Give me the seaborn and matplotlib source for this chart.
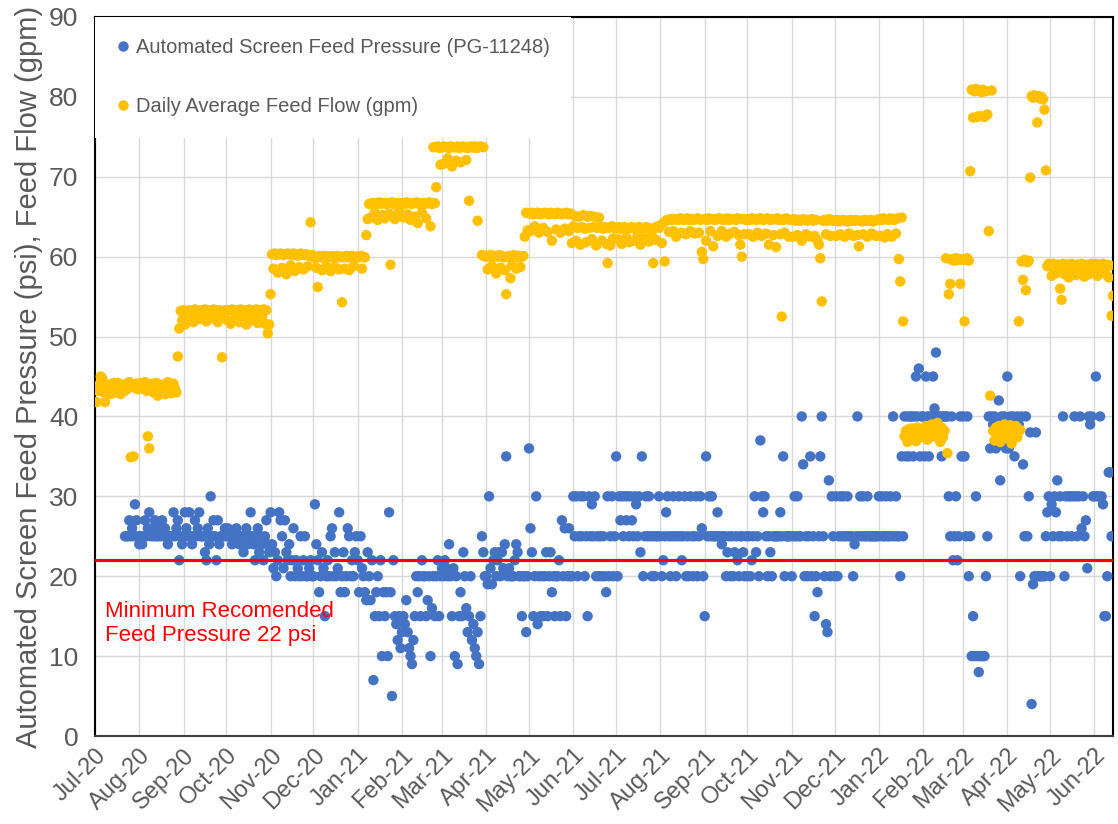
import pandas as pd
import matplotlib
matplotlib.use("Agg")
import matplotlib.pyplot as plt
import matplotlib.dates as mdates
import seaborn as sns

# colours
BLUE = "#4472C4"
GOLD = "#FFC000"
GREY = "#595959"

month_starts = pd.date_range("2020-07-01", "2022-06-01", freq="MS")

# Daily Average Feed Flow (gpm), one list per month
flow_2020_07 = [43.5, 41.8, 43.2, 44.0, 45.0, 44.8, 43.0, 41.8, 43.5, 44.0, 43.2, 42.8, 43.6, 44.2, 43.0, 43.8,
                44.2, 43.5, 42.8, 43.6, 44.0, 43.2, 43.8, 43.5, 44.3, 34.9, 43.8, 35.0, 43.6, 44.1, 43.4]
flow_2020_08 = [43.8, 44.2, 43.5, 43.9, 44.3, 43.2, 37.5, 36.0, 43.6, 44.1, 43.0, 43.8, 44.2, 42.6, 43.5, 43.9,
                43.1, 44.0, 42.8, 43.6, 44.3, 43.4, 42.9, 43.8, 44.1, 43.5, 43.0, 47.5, 51.0, 53.2, 52.0]
flow_2020_09 = [53.3, 51.5, 53.2, 52.0, 53.3, 52.4, 53.1, 51.8, 53.4, 52.5, 53.2, 52.2, 53.3, 53.0, 52.6, 53.4,
                51.9, 53.2, 53.3, 52.3, 53.1, 53.4, 52.5, 53.2, 51.8, 53.3, 53.2, 47.4, 52.6, 53.3]
flow_2020_10 = [53.2, 52.0, 53.3, 51.6, 53.4, 53.2, 52.2, 53.3, 53.1, 51.8, 53.4, 53.2, 52.4, 53.3, 51.5, 53.2,
                53.4, 52.0, 53.3, 53.2, 52.3, 53.4, 51.7, 53.3, 53.2, 52.5, 53.4, 51.6, 53.3, 50.4, 51.5]
flow_2020_11 = [55.3, 60.3, 58.5, 60.4, 60.2, 58.0, 60.3, 60.4, 58.6, 60.2, 60.3, 57.8, 60.4, 60.3, 58.9, 60.2,
                60.4, 58.2, 60.3, 60.1, 58.7, 60.4, 60.3, 58.4, 60.2, 60.3, 58.8, 60.1, 64.3, 60.2]
flow_2020_12 = [60.0, 59.8, 58.6, 56.2, 60.1, 59.9, 58.3, 60.0, 60.1, 58.8, 59.9, 60.0, 58.2, 60.1, 59.9, 58.7,
                60.0, 60.1, 58.4, 59.9, 54.3, 60.0, 58.5, 60.1, 59.9, 58.3, 60.0, 60.1, 58.8, 59.9, 60.0]
flow_2021_01 = [59.9, 60.0, 60.1, 58.5, 60.0, 59.9, 62.7, 64.7, 66.6, 64.9, 66.7, 66.5, 65.5, 66.7, 64.6, 66.8,
                66.6, 65.2, 66.7, 64.8, 66.6, 66.7, 65.4, 59.0, 66.8, 66.6, 64.7, 66.7, 66.5, 65.6, 66.7]
flow_2021_02 = [66.7, 64.9, 66.6, 66.8, 65.3, 66.7, 64.6, 66.6, 66.7, 65.0, 66.8, 64.2, 66.6, 66.7, 65.5, 66.7,
                66.6, 64.8, 66.7, 66.8, 63.8, 66.6, 73.7, 66.7, 68.7, 73.8, 73.6, 71.5]
flow_2021_03 = [73.7, 71.6, 73.8, 73.7, 72.3, 73.6, 73.8, 71.3, 73.7, 73.7, 72.0, 73.8, 73.6, 71.8, 73.7, 73.8,
                73.7, 72.1, 73.6, 67.0, 73.8, 73.7, 73.7, 73.8, 73.6, 64.5, 73.7, 73.8, 60.2, 73.7, 60.0]
flow_2021_04 = [60.1, 58.4, 60.0, 60.2, 58.8, 59.9, 60.1, 57.9, 60.0, 60.2, 58.6, 60.1, 59.9, 58.3, 55.3, 60.0,
                60.1, 57.3, 58.9, 60.2, 60.0, 58.5, 60.1, 59.9, 58.7, 60.0, 60.1, 62.5, 65.5, 63.3]
flow_2021_05 = [65.4, 63.2, 65.5, 65.3, 63.8, 65.4, 65.5, 63.0, 65.3, 65.4, 63.6, 65.5, 65.4, 63.1, 65.3, 65.5,
                62.0, 65.4, 65.3, 63.4, 65.5, 65.4, 63.0, 65.3, 65.4, 63.5, 65.5, 65.3, 63.2, 65.4, 61.7]
flow_2021_06 = [63.8, 65.1, 62.0, 63.6, 65.0, 61.5, 63.7, 65.2, 63.5, 61.8, 65.0, 63.6, 65.1, 62.2, 63.7, 65.0,
                61.4, 63.6, 64.9, 63.8, 62.0, 63.5, 63.7, 61.6, 59.2, 63.6, 61.4, 63.8, 62.3, 63.6]
flow_2021_07 = [63.6, 62.2, 63.7, 63.5, 61.6, 63.6, 63.7, 62.4, 63.5, 61.8, 63.6, 63.7, 62.0, 63.5, 63.6, 62.5,
                63.7, 61.5, 63.6, 63.5, 62.3, 63.7, 63.6, 61.9, 63.5, 62.6, 59.2, 63.6, 62.1, 63.8, 63.6]
flow_2021_08 = [63.9, 61.7, 64.2, 59.4, 64.5, 64.6, 63.1, 64.7, 64.6, 63.2, 64.7, 62.5, 64.6, 64.7, 64.8, 63.0,
                64.6, 64.7, 62.8, 64.8, 64.6, 63.2, 64.7, 64.6, 62.9, 64.7, 64.8, 63.0, 64.6, 60.6, 59.7]
flow_2021_09 = [64.7, 62.0, 64.6, 64.8, 63.2, 64.7, 61.3, 64.6, 64.7, 62.6, 64.8, 64.7, 63.2, 64.6, 64.7, 62.5,
                64.8, 64.6, 62.9, 64.7, 64.7, 63.1, 64.6, 64.8, 62.7, 61.5, 60.0, 64.7, 62.8, 64.6]
flow_2021_10 = [64.7, 62.8, 64.6, 64.8, 62.5, 64.7, 64.6, 63.0, 64.7, 64.8, 62.6, 64.6, 64.7, 62.9, 64.8, 61.5,
                64.6, 64.7, 62.7, 64.7, 61.2, 64.8, 64.6, 62.8, 52.5, 64.6, 63.0, 64.8, 64.7, 62.5, 64.6]
flow_2021_11 = [64.6, 62.5, 64.7, 64.5, 62.7, 64.6, 64.5, 62.0, 64.7, 64.6, 62.8, 64.5, 64.6, 62.5, 64.7, 64.5,
                62.6, 64.6, 62.0, 61.5, 59.8, 54.4, 64.5, 64.6, 62.8, 64.5, 64.7, 62.6, 64.6, 64.5]
flow_2021_12 = [64.5, 62.6, 64.6, 64.4, 62.8, 64.5, 64.6, 62.5, 64.5, 64.4, 62.9, 64.6, 64.5, 62.6, 64.5, 64.6,
                62.7, 61.3, 64.5, 64.4, 62.8, 64.6, 64.5, 62.5, 64.5, 64.6, 62.9, 64.4, 64.5, 62.6, 64.6]
flow_2022_01 = [64.7, 62.6, 64.6, 64.8, 62.4, 64.7, 62.8, 64.6, 64.8, 62.5, 64.7, 64.6, 62.9, 64.8, 59.7, 56.9,
                64.9, 51.9, 37.5, 38.2, 36.8, 38.4, 37.2, 38.5, 37.8, 38.3, 36.9, 38.6, 38.0, 37.4, 38.4]
flow_2022_02 = [38.3, 37.6, 38.8, 37.1, 38.5, 38.0, 39.0, 37.5, 38.4, 37.8, 39.2, 38.1, 36.8, 38.6, 37.4, 38.2,
                59.8, 35.4, 55.3, 56.6, 59.6, 59.7, 59.5, 59.8, 59.6, 59.7, 56.6, 59.6]
flow_2022_03 = [59.7, 51.9, 59.6, 59.8, 59.5, 70.7, 80.9, 77.4, 80.7, 81.0, 77.5, 80.8, 77.6, 80.6, 80.9, 77.5,
                80.7, 77.8, 63.2, 42.6, 80.8, 38.2, 37.0, 38.6, 37.5, 38.8, 36.8, 38.1, 37.6, 39.0, 37.3]
flow_2022_04 = [38.4, 37.2, 38.9, 36.6, 38.0, 37.7, 38.8, 37.4, 51.9, 38.3, 59.4, 57.1, 59.6, 55.8, 59.3, 59.5,
                69.9, 80.1, 79.9, 80.2, 80.0, 76.8, 80.1, 79.8, 80.0, 79.7, 78.4, 70.8, 58.8, 59.1]
flow_2022_05 = [58.9, 57.6, 59.1, 58.7, 57.9, 59.0, 58.4, 56.0, 54.6, 59.1, 57.8, 58.8, 59.0, 57.4, 58.6, 59.1,
                58.0, 58.9, 57.7, 59.0, 58.8, 57.9, 59.1, 58.7, 57.5, 58.9, 59.0, 57.8, 58.8, 59.1, 58.5]
flow_2022_06 = [58.9, 59.1, 57.6, 58.8, 59.0, 58.4, 59.1, 58.8, 57.8, 59.0, 57.4, 58.9, 52.6, 55.1]

# Automated Screen Feed Pressure PG-11248 (psi), None = no reading
psi_2020_07 = [None] * 21 + [25, 25, 25, 27, 25, 26, 25, 29, 27, 25, 24]
psi_2020_08 = [25, 25, 24, 25, 27, 25, 26, 28, 25, 26, 25, 27, 25, 25, 26, 25, 27, 25, 26, 25, 24, 25, 25, 25,
               28, 25, 26, 27, 22, 25, 24]
psi_2020_09 = [25, 28, 26, 25, 28, 25, 24, 25, 27, 25, 26, 28, 25, 25, 25, 23, 22, 26, 24, 30, 25, 27, 25, 22,
               27, 24, 25, 25, 25, 26]
psi_2020_10 = [25, 26, 25, 25, 24, 25, 25, 26, 25, 24, 25, 25, 23, 25, 26, 24, 25, 28, 25, 24, 22, 25, 26, 23,
               25, 24, 22, 25, 27, 24, 23]
psi_2020_11 = [28, 24, 21, 23, 20, 22, 28, 27, 25, 21, 27, 23, 22, 24, 20, 22, 26, 20, 22, 21, 20, 25, 20, 22,
               25, 20, 20, 21, 22, 20]
psi_2020_12 = [20, 29, 24, 22, 18, 20, 23, 21, 15, 20, 22, 20, 25, 26, 20, 23, 20, 21, 28, 18, 20, 23, 18, 20,
               26, 25, 20, 22, 20, 23, 25]
psi_2021_01 = [22, 18, 25, 21, 20, 18, 17, 23, 20, 17, 22, 7, 15, 18, 20, 15, 22, 10, 18, 15, 18, 10, 28, 18,
               5, 22, 15, 14, 12, 15, 11]
psi_2021_02 = [13, 15, 14, 17, 13, 11, 10, 9, 12, 15, 20, 18, 20, 15, 22, 20, 20, 15, 17, 20, 10, 16, 20, 15,
               20, 22, 15, 20]
psi_2021_03 = [21, 20, 22, 21, 20, 24, 20, 15, 21, 10, 20, 9, 15, 18, 15, 23, 20, 16, 13, 15, 20, 12, 14, 11,
               10, 13, 9, 15, 25, 23, 20]
psi_2021_04 = [20, 19, 30, 21, 19, 22, 23, 20, 22, 23, 20, 23, 21, 24, 35, 20, 21, 20, 20, 20, 22, 24, 23, 20,
               20, 15, 20, 20, 13, 20]
psi_2021_05 = [36, 26, 23, 15, 20, 30, 14, 20, 15, 20, 15, 20, 23, 15, 20, 23, 18, 20, 15, 20, 20, 22, 15, 27,
               20, 26, 15, 20, 26, 20, 20]
psi_2021_06 = [30, 25, 30, 20, 25, 30, 25, 30, 20, 25, 15, 30, 25, 29, 25, 30, 20, 25, 20, 25, 20, 25, 20, 18,
               30, 20, 25, 30, 20, 25]
psi_2021_07 = [35, 20, 30, 27, 30, 25, 30, 27, 30, 25, 30, 27, 25, 30, 29, 25, 30, 23, 35, 20, 25, 30, 25, 30,
               25, 20, 25, 20, 25, 25, 30]
psi_2021_08 = [25, 20, 22, 25, 28, 30, 25, 20, 25, 30, 25, 20, 25, 30, 25, 22, 25, 30, 20, 25, 20, 30, 25, 20,
               25, 30, 20, 25, 30, 26, 20]
psi_2021_09 = [15, 35, 25, 30, 25, 30, 25, 25, 25, 28, 25, 25, 24, 25, 25, 20, 23, 25, 20, 25, 20, 23, 25, 22,
               20, 25, 25, 23, 20, 25]
psi_2021_10 = [20, 25, 20, 22, 25, 30, 23, 25, 20, 37, 30, 28, 30, 25, 20, 25, 23, 20, 25, 25, 25, 25, 25, 28,
               25, 35, 20, 25, 25, 25, 25]
psi_2021_11 = [20, 25, 30, 25, 30, 25, 25, 40, 34, 20, 25, 20, 25, 35, 20, 25, 15, 20, 18, 25, 35, 40, 25, 20,
               14, 13, 32, 20, 30, 25]
psi_2021_12 = [20, 30, 20, 25, 30, 25, 30, 25, 25, 30, 25, 25, 25, 20, 24, 25, 40, 25, 30, 25, 30, 25, 25, 30,
               25, 25, 25, 25, 25, 25, 25]
psi_2022_01 = [30, 25, 30, 25, 25, 30, 25, 25, 30, 25, 40, 25, 30, 25, 25, 20, 35, 25, 40, 35, 40, 35, 40, 40,
               35, 40, 45, 40, 46, 35, 40]
psi_2022_02 = [40, 35, 45, 40, 35, 40, 40, 45, 41, 48, 40, 40, 40, 35, 40, 40, 40, 40, 30, 25, 40, 22, 25, 30,
               22, 25, 40, 35]
psi_2022_03 = [40, 35, 25, 40, 20, 25, 10, 15, 10, 30, 10, 8, 10, 10, 10, 10, 20, 25, 40, 36, 40, 39, 40, 36,
               39, 42, 32, 40, 39, 40, 36]
psi_2022_04 = [45, 36, 40, 39, 40, 35, 39, 40, 39, 20, 40, 34, 25, 40, 25, 30, 38, 4, 19, 20, 38, 20, 20, 20,
               20, 20, 20, 25, 28, 30]
psi_2022_05 = [20, 29, 25, 30, 28, 32, 25, 30, 25, 40, 20, 30, 25, 30, 30, 25, 30, 40, 30, 25, 30, 40, 26, 30,
               25, 27, 21, 40, 39, 40, 30]
psi_2022_06 = [30, 45, 30, 30, 40, 30, 29, 15, 15, 20, 33, 33, 25, 25]

flow_months = [flow_2020_07, flow_2020_08, flow_2020_09, flow_2020_10, flow_2020_11, flow_2020_12,
               flow_2021_01, flow_2021_02, flow_2021_03, flow_2021_04, flow_2021_05, flow_2021_06,
               flow_2021_07, flow_2021_08, flow_2021_09, flow_2021_10, flow_2021_11, flow_2021_12,
               flow_2022_01, flow_2022_02, flow_2022_03, flow_2022_04, flow_2022_05, flow_2022_06]
psi_months = [psi_2020_07, psi_2020_08, psi_2020_09, psi_2020_10, psi_2020_11, psi_2020_12,
              psi_2021_01, psi_2021_02, psi_2021_03, psi_2021_04, psi_2021_05, psi_2021_06,
              psi_2021_07, psi_2021_08, psi_2021_09, psi_2021_10, psi_2021_11, psi_2021_12,
              psi_2022_01, psi_2022_02, psi_2022_03, psi_2022_04, psi_2022_05, psi_2022_06]

PSI_LABEL = "Automated Screen Feed Pressure (PG-11248)"
FLOW_LABEL = "Daily Average Feed Flow (gpm)"


def to_frame(month_lists, name):
    parts = []
    for start, vals in zip(month_starts, month_lists):
        s = pd.Series(vals, index=pd.date_range(start, periods=len(vals), freq="D"), dtype=float)
        parts.append(s)
    s = pd.concat(parts).dropna()
    return pd.DataFrame({"date": s.index, "value": s.values, "series": name})


df = pd.concat([to_frame(psi_months, PSI_LABEL), to_frame(flow_months, FLOW_LABEL)], ignore_index=True)

sns.set_style("whitegrid", {"grid.color": "#d9d9d9", "axes.edgecolor": "black"})
plt.rcParams["font.family"] = ["Liberation Sans", "DejaVu Sans"]

fig = plt.figure(figsize=(11.18, 8.24), dpi=100)
ax = fig.add_axes([95 / 1118, 1 - 736 / 824, 1018 / 1118, 719 / 824])

sns.scatterplot(data=df, x="date", y="value", hue="series", hue_order=[PSI_LABEL, FLOW_LABEL],
                palette=[BLUE, GOLD], s=56, linewidth=0, ax=ax, zorder=3)

ax.axhline(22, color="red", lw=2.3, zorder=4)
ax.text(pd.Timestamp("2020-07-08"), 14.1, "Minimum Recomended\nFeed Pressure 22 psi",
        color="red", fontsize=16, va="center", ha="left", linespacing=1.2, zorder=5)

ax.set_xlim(pd.Timestamp("2020-07-01"), pd.Timestamp("2022-06-14"))
ax.set_ylim(0, 90)
ax.set_yticks(range(0, 91, 10))
ax.xaxis.set_major_locator(mdates.MonthLocator())
ax.xaxis.set_major_formatter(mdates.DateFormatter("%b-%y"))
ax.grid(True, color="#d9d9d9", lw=1)
ax.set_axisbelow(True)

ax.tick_params(axis="both", length=0, colors=GREY)
ax.tick_params(axis="y", labelsize=19, pad=12)
ax.tick_params(axis="x", labelsize=17, pad=6)
for lbl in ax.get_xticklabels():
    lbl.set_rotation(45)
    lbl.set_ha("right")
    lbl.set_rotation_mode("anchor")

ax.set_xlabel("")
ax.set_ylabel("Automated Screen Feed Pressure (psi), Feed Flow (gpm)", fontsize=21, color=GREY, labelpad=4)

for side in ["left", "top", "right"]:
    ax.spines[side].set_color("black")
    ax.spines[side].set_linewidth(1.5)
ax.spines["bottom"].set_color("#404040")
ax.spines["bottom"].set_linewidth(1.5)

handles, labels = ax.get_legend_handles_labels()
leg = ax.legend(handles, labels, loc="upper left", bbox_to_anchor=(0, 1), borderaxespad=0,
                fontsize=14.5, frameon=True, fancybox=False, framealpha=1, edgecolor="white",
                borderpad=1.05, labelspacing=2.0, handlelength=0.7, handletextpad=0.3)
leg.get_frame().set_linewidth(0)
for t in leg.get_texts():
    t.set_color(GREY)
leg.set_zorder(6)

fig.savefig("out.png", dpi=100)
